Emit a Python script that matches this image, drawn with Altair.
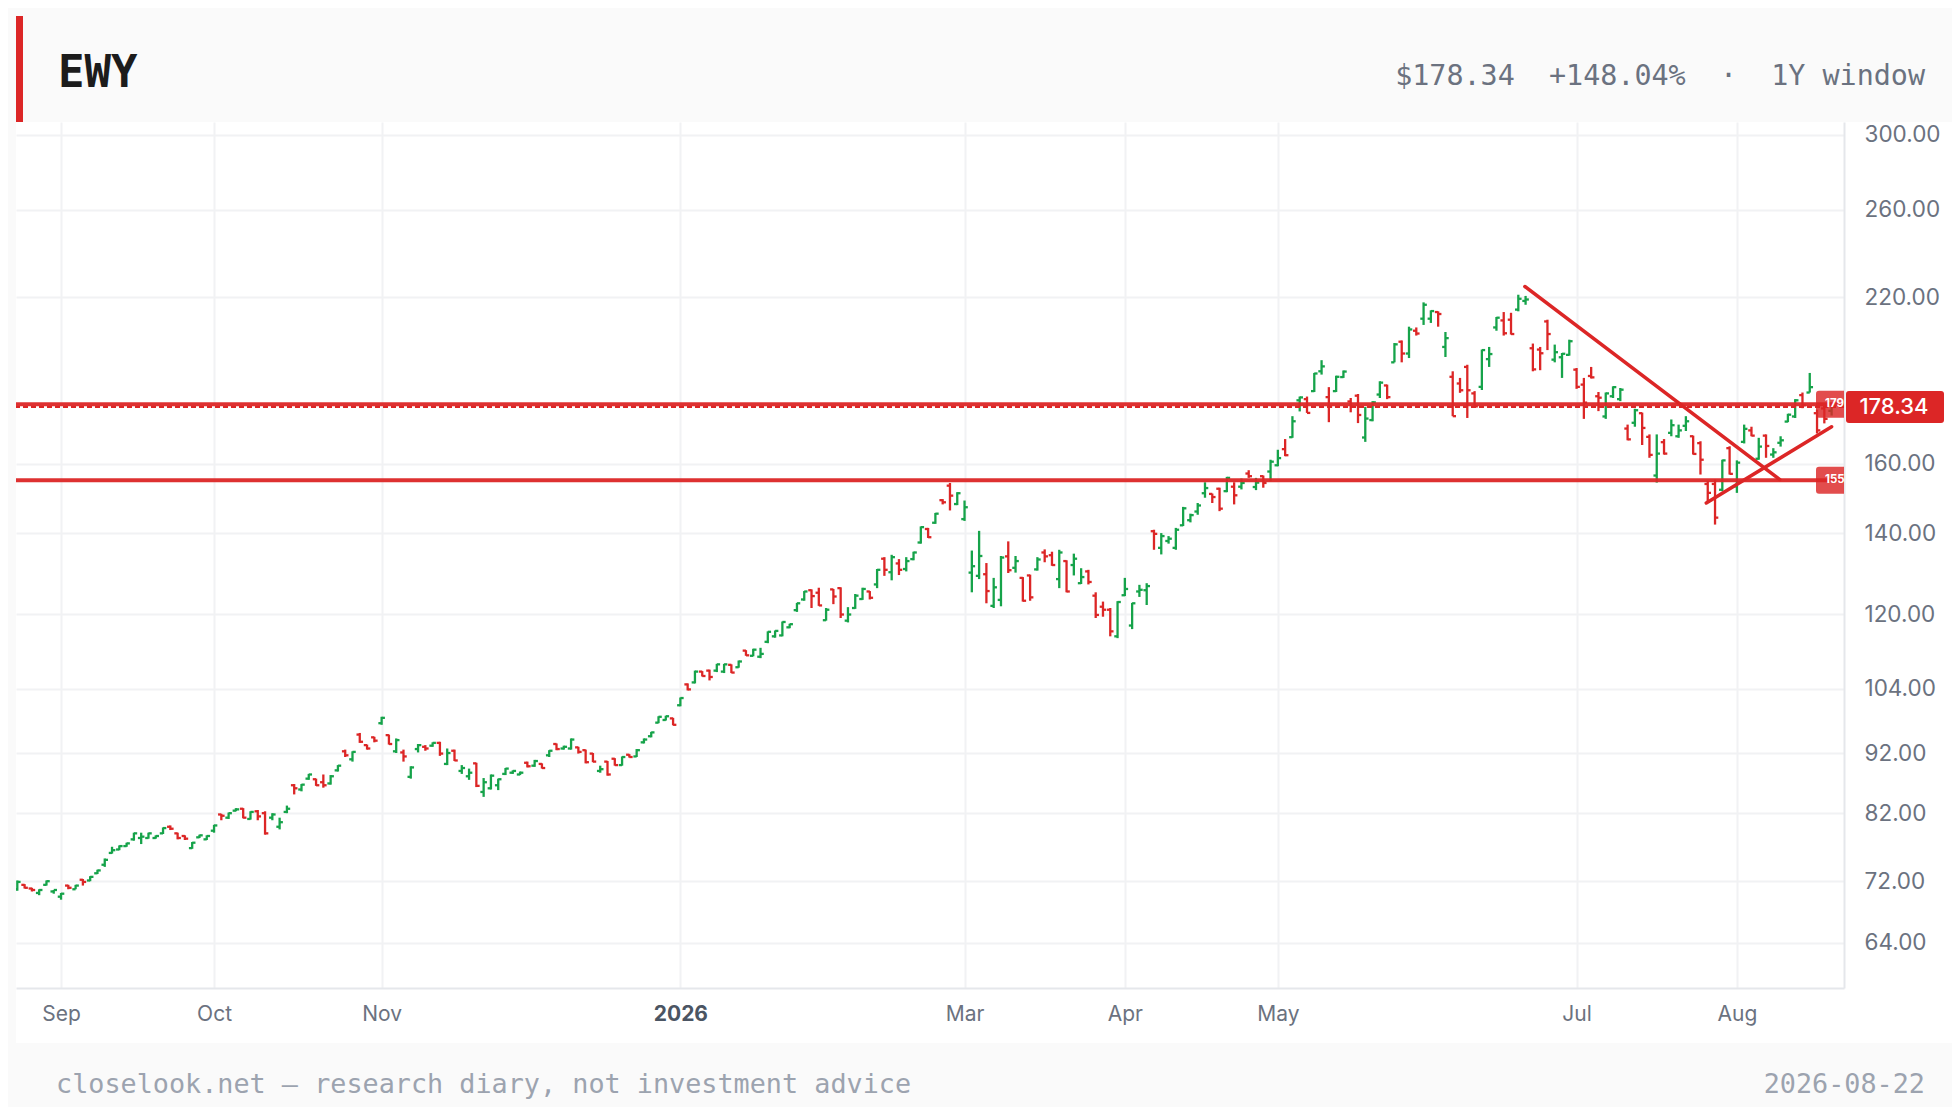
import altair as alt
import pandas as pd

# ---------------- data ----------------
opens = [70.9, 71.5, 71.0, 70.4, 71.5, 70.6, 69.9, 71.4, 70.9, 72.2,
         72.1, 73.1, 74.3, 76.0, 76.5, 77.0, 78.0, 78.2, 78.2, 78.2,
         78.9, 79.9, 78.9, 78.5, 76.7, 78.3, 78.0, 79.3, 81.8, 81.3,
         82.4, 82.7, 81.1, 82.3, 82.0, 81.3, 79.9, 82.2, 86.5, 85.8,
         87.6, 87.5, 87.0, 86.8, 89.0, 92.3, 90.9, 95.3, 93.4, 94.8,
         97.4, 95.2, 92.3, 92.1, 87.9, 92.7, 93.1, 93.3, 93.8, 90.1,
         92.4, 88.9, 88.0, 90.2, 85.4, 86.0, 86.5, 88.4, 88.6, 88.3,
         90.3, 89.8, 90.1, 91.6, 93.6, 92.8, 92.8, 93.0, 92.5, 91.9,
         88.9, 90.5, 91.0, 89.9, 91.7, 91.4, 93.9, 95.0, 97.5, 98.0,
         98.3, 100.8, 104.9, 105.3, 107.5, 107.7, 107.7, 107.5, 108.9, 108.4,
         111.9, 110.8, 110.6, 113.8, 115.0, 115.2, 117.0, 120.9, 123.4, 125.6,
         125.0, 118.6, 125.8, 126.1, 118.5, 121.4, 123.5, 125.3, 127.0, 133.4,
         130.0, 132.2, 130.8, 133.3, 137.6, 141.2, 142.9, 149.2, 153.4, 148.1,
         143.9, 129.9, 129.1, 129.5, 121.9, 123.3, 134.0, 131.1, 128.6, 129.2,
         130.7, 135.0, 134.3, 128.3, 132.8, 131.8, 127.3, 130.2, 124.3, 121.7,
         121.0, 115.0, 124.4, 117.4, 125.3, 125.6, 140.6, 136.2, 138.0, 136.2,
         142.2, 143.6, 146.0, 151.2, 151.0, 152.5, 151.8, 153.1, 153.1, 157.0,
         153.0, 156.2, 157.6, 159.5, 164.5, 168.3, 180.6, 181.0, 183.8, 190.9,
         181.7, 183.8, 188.8, 180.2, 182.2, 168.2, 173.9, 182.6, 185.8, 194.2,
         202.0, 197.5, 206.3, 211.1, 211.1, 213.8, 200.0, 188.9, 186.5, 192.5,
         183.0, 185.3, 195.4, 207.6, 210.4, 210.7, 214.8, 218.4, 199.5, 199.0,
         210.0, 195.2, 196.1, 197.0, 191.5, 186.1, 189.2, 182.0, 175.1, 182.0,
         181.0, 171.1, 173.0, 176.2, 168.4, 156.4, 166.7, 169.7, 168.6, 172.0,
         168.6, 166.4, 153.9, 153.9, 152.2, 164.8, 153.2, 166.8, 170.5, 161.5,
         168.8, 162.8, 166.5, 173.4, 175.1, 182.4, 183.3, 176.2, 177.8, 177.0]

highs = [72.1, 71.6, 71.1, 70.9, 72.1, 70.8, 70.4, 71.5, 71.5, 72.3,
         72.7, 73.6, 75.2, 76.9, 77.1, 77.5, 79.0, 79.0, 79.0, 78.6,
         79.8, 80.1, 79.0, 78.6, 77.6, 78.7, 78.6, 80.2, 81.9, 82.1,
         82.8, 82.8, 82.3, 82.5, 82.3, 82.0, 81.3, 83.2, 86.7, 86.7,
         88.4, 87.6, 88.3, 88.2, 89.9, 92.6, 92.3, 95.6, 93.5, 94.9,
         98.6, 95.3, 94.6, 92.6, 89.7, 93.6, 93.4, 93.9, 94.0, 92.8,
         92.6, 89.9, 89.3, 90.3, 87.7, 88.3, 87.6, 89.4, 89.0, 88.8,
         90.5, 90.8, 90.2, 92.5, 93.7, 93.3, 94.6, 93.1, 92.6, 92.0,
         89.8, 90.6, 91.1, 91.4, 91.8, 92.7, 94.6, 95.8, 98.7, 98.8,
         98.4, 102.3, 105.1, 107.7, 107.6, 107.9, 109.1, 109.1, 109.0, 109.8,
         112.0, 112.3, 112.5, 116.1, 116.3, 118.3, 117.8, 122.6, 125.4, 125.8,
         126.2, 121.4, 125.9, 126.3, 121.6, 124.7, 126.2, 125.4, 130.8, 133.8,
         134.4, 133.3, 133.8, 135.2, 141.9, 141.5, 145.6, 149.5, 154.2, 151.5,
         149.1, 135.5, 140.7, 132.3, 128.6, 134.1, 137.9, 134.1, 128.8, 129.4,
         133.8, 135.8, 135.2, 135.7, 133.0, 134.7, 131.0, 130.6, 125.1, 122.9,
         121.4, 123.0, 128.6, 122.6, 126.9, 127.3, 141.0, 140.1, 139.3, 141.5,
         147.3, 145.4, 148.4, 154.4, 151.1, 152.8, 156.0, 154.4, 155.5, 158.0,
         155.7, 156.4, 161.2, 164.3, 167.7, 175.2, 181.9, 181.9, 190.3, 195.0,
         185.2, 189.3, 191.2, 181.4, 182.8, 178.3, 180.3, 187.3, 186.1, 201.5,
         202.5, 207.9, 207.6, 217.8, 214.5, 214.1, 205.8, 190.9, 188.5, 193.3,
         183.8, 199.0, 200.0, 211.8, 213.8, 213.5, 221.0, 220.5, 201.3, 200.0,
         210.7, 200.9, 197.7, 202.8, 192.1, 188.5, 192.5, 183.5, 183.3, 185.5,
         184.9, 172.4, 177.7, 176.4, 169.2, 169.2, 167.7, 174.1, 172.4, 175.2,
         168.8, 167.0, 154.7, 155.2, 161.2, 165.4, 161.0, 172.4, 171.7, 168.1,
         169.2, 164.8, 168.6, 176.0, 181.0, 183.3, 190.3, 177.4, 178.3, 179.2]

lows = [70.7, 71.0, 70.6, 70.1, 71.4, 70.3, 69.5, 70.9, 70.9, 71.4,
        72.0, 73.0, 74.0, 75.9, 76.4, 76.9, 77.8, 77.3, 78.1, 78.1,
        78.8, 79.4, 78.0, 77.9, 76.6, 78.2, 77.9, 79.0, 80.9, 81.1,
        82.3, 81.2, 81.0, 80.9, 78.7, 80.9, 79.5, 82.0, 85.0, 85.5,
        87.4, 86.4, 86.1, 86.6, 88.8, 91.3, 90.5, 93.8, 92.6, 93.9,
        97.1, 93.5, 92.0, 90.5, 87.6, 92.1, 92.4, 93.1, 91.5, 89.9,
        90.6, 88.4, 87.4, 86.2, 84.6, 85.8, 85.7, 88.2, 88.4, 88.2,
        89.5, 89.6, 89.3, 91.3, 92.5, 92.6, 92.6, 91.9, 90.2, 90.4,
        88.6, 88.1, 89.8, 89.8, 91.2, 91.3, 93.7, 94.8, 97.4, 97.9,
        97.0, 100.6, 103.7, 105.1, 106.5, 105.7, 107.4, 107.2, 107.2, 108.3,
        110.8, 110.7, 110.3, 113.5, 114.7, 115.0, 116.8, 120.5, 123.1, 121.4,
        121.9, 118.5, 122.3, 119.1, 118.1, 121.2, 123.3, 123.4, 126.1, 129.1,
        128.0, 129.3, 130.2, 133.0, 137.3, 138.8, 142.6, 148.0, 146.3, 147.8,
        143.4, 125.1, 128.3, 122.5, 121.4, 121.8, 129.8, 129.9, 122.9, 123.1,
        130.4, 132.5, 131.6, 126.1, 125.1, 129.2, 127.1, 127.0, 119.1, 119.4,
        115.0, 114.6, 124.2, 116.6, 124.0, 122.1, 135.7, 134.5, 137.3, 135.7,
        142.0, 143.0, 145.1, 149.9, 148.4, 146.1, 151.5, 148.0, 152.3, 155.7,
        152.1, 152.8, 154.7, 159.2, 162.3, 168.1, 176.8, 176.3, 183.5, 189.7,
        173.2, 183.5, 188.5, 176.5, 172.9, 166.8, 173.5, 181.4, 181.0, 194.2,
        194.2, 195.8, 204.4, 208.6, 209.4, 207.9, 196.2, 175.2, 183.2, 174.6,
        178.3, 184.2, 192.5, 206.3, 204.4, 204.8, 214.1, 216.8, 190.9, 191.3,
        198.8, 194.2, 188.5, 196.7, 184.6, 174.3, 188.3, 176.9, 174.3, 181.4,
        180.3, 167.3, 171.7, 165.8, 161.8, 154.3, 162.8, 168.6, 168.1, 170.3,
        162.8, 156.7, 148.4, 142.4, 151.8, 156.7, 151.3, 166.3, 168.6, 161.2,
        161.8, 161.8, 165.3, 173.2, 174.6, 177.9, 183.3, 169.5, 172.8, 175.4]

closes = [71.9, 71.1, 70.8, 70.8, 72.0, 70.8, 70.3, 71.1, 71.4, 71.9,
          72.6, 73.5, 75.0, 76.4, 77.0, 77.4, 78.9, 78.4, 78.9, 78.5,
          79.7, 79.6, 78.2, 78.1, 77.5, 78.6, 78.5, 80.1, 81.6, 82.0,
          82.6, 81.3, 82.2, 81.5, 78.9, 81.8, 80.6, 82.7, 86.0, 86.6,
          88.3, 86.5, 86.5, 88.0, 89.8, 91.6, 92.2, 94.0, 92.8, 94.2,
          98.4, 93.6, 94.3, 91.4, 89.5, 93.4, 92.8, 93.8, 91.9, 92.0,
          90.7, 89.4, 88.6, 86.4, 87.0, 88.1, 87.5, 89.3, 88.9, 88.6,
          89.7, 90.6, 89.4, 92.4, 92.7, 93.1, 94.4, 92.2, 90.4, 90.5,
          89.2, 88.3, 89.9, 91.3, 91.3, 92.5, 94.4, 95.7, 98.6, 98.7,
          97.1, 102.2, 103.9, 107.5, 106.6, 106.4, 109.0, 109.0, 107.3, 109.6,
          110.9, 112.1, 111.2, 116.0, 116.2, 118.2, 117.7, 122.5, 125.3, 124.2,
          122.0, 121.0, 124.1, 119.9, 119.9, 124.3, 125.9, 123.8, 130.6, 130.6,
          133.8, 130.6, 132.8, 135.0, 141.7, 139.0, 145.4, 148.6, 150.5, 151.2,
          147.2, 131.5, 134.1, 125.4, 126.3, 133.7, 130.5, 132.8, 123.1, 123.9,
          133.2, 134.0, 131.8, 135.0, 125.3, 133.4, 128.8, 127.6, 119.8, 121.0,
          116.1, 122.8, 125.9, 122.5, 125.7, 126.6, 139.9, 139.3, 138.6, 141.0,
          146.9, 145.0, 147.7, 152.7, 150.1, 146.8, 155.7, 150.6, 154.2, 156.2,
          154.3, 154.2, 160.6, 161.7, 162.6, 173.5, 181.6, 176.3, 190.1, 192.7,
          178.4, 188.9, 190.8, 178.4, 175.6, 174.4, 179.9, 186.8, 181.7, 201.0,
          197.5, 206.8, 205.2, 216.8, 214.2, 213.0, 203.4, 175.2, 184.1, 184.1,
          178.5, 198.8, 197.3, 211.5, 205.3, 205.0, 219.3, 219.0, 191.6, 197.6,
          205.0, 198.0, 197.4, 202.2, 185.3, 179.8, 188.7, 181.5, 183.0, 185.2,
          184.3, 167.6, 177.2, 171.3, 162.7, 163.1, 163.1, 172.2, 170.5, 173.5,
          163.0, 161.2, 151.3, 144.3, 161.0, 156.9, 160.3, 171.0, 168.8, 165.3,
          165.5, 163.5, 167.3, 175.7, 180.6, 178.9, 185.2, 170.5, 174.3, 178.34]

# x axis: trading-day index of the first session of each labelled month
month_idx = [6, 27, 50, 91, 130, 152, 173, 214, 236]
month_lbl = ["Sep", "Oct", "Nov", "2026", "Mar", "Apr", "May", "Jul", "Aug"]
year_idx = 91
y_ticks = [64, 72, 82, 92, 104, 120, 140, 160, 220, 260, 300]

level_vals = [179.2, 155.0]
level_text = ["179", "155"]
last_price = 178.34

trend_x = [206.9, 241.9, 231.8, 249.0]
trend_y = [224.5, 155.2, 148.4, 171.7]
trend_id = ["down", "down", "up", "up"]

title_text = "EWY"
header_right = "$178.34\u00a0\u00a0+148.04%\u00a0\u00a0·\u00a0\u00a01Y window"
footer_left = "closelook.net — research diary, not investment advice"
footer_right = "2026-08-22"

# ---------------- styling ----------------
W, H = 1828, 866
PAD_R, PAD_B = 108, 119
RED = "#dc2626"
GREEN = "#16a34a"
GRAY_BG = "#fafafa"
AXIS_TXT = "#6b7280"
MONO = "DejaVu Sans Mono"
SANS = "Inter"

df = pd.DataFrame({"i": list(range(len(closes))), "o": opens, "h": highs,
                   "l": lows, "c": closes})
df["dir"] = ["up" if c >= o else "down" for o, c in zip(opens, closes)]

xs = alt.Scale(domain=[-0.18, 250.7], nice=False, zero=False)
ys = alt.Scale(type="log", domain=[58.7, 307.5], nice=False)
col = alt.Color("dir:N", scale=alt.Scale(domain=["up", "down"], range=[GREEN, RED]),
                legend=None)

label_expr = " : ".join(f"datum.value == {v} ? '{t}'" for v, t in zip(month_idx, month_lbl)) + " : ''"

x_axis = alt.Axis(values=month_idx, labelExpr=label_expr, grid=True, ticks=False,
                  tickSize=0, domain=True, title=None, labelFont=SANS,
                  labelFontSize=21, labelPadding=15, labelFlush=False,
                  labelOverlap=False,
                  labelColor={"condition": {"test": f"datum.value == {year_idx}", "value": "#4b5563"},
                              "value": AXIS_TXT},
                  labelFontWeight={"condition": {"test": f"datum.value == {year_idx}", "value": "bold"},
                                   "value": "normal"})
y_axis = alt.Axis(orient="right", values=y_ticks, format=".2f", grid=True, ticks=False,
                  tickSize=0, domain=True, title=None, labelFont=SANS, labelFontSize=22.5,
                  labelColor=AXIS_TXT, labelPadding=20, labelOverlap=False)

one = pd.DataFrame({"k": [0]})

# background bands (header, left strip, footer)
header_bg = alt.Chart(one).mark_rect(color=GRAY_BG).encode(
    x=alt.value(-8), x2=alt.value(W + PAD_R), y=alt.value(-114), y2=alt.value(0))
left_bg = alt.Chart(one).mark_rect(color=GRAY_BG).encode(
    x=alt.value(-8), x2=alt.value(0), y=alt.value(0), y2=alt.value(921))
footer_bg = alt.Chart(one).mark_rect(color=GRAY_BG).encode(
    x=alt.value(-8), x2=alt.value(W + PAD_R), y=alt.value(921), y2=alt.value(H + PAD_B))
accent = alt.Chart(one).mark_rect(color=RED).encode(
    x=alt.value(0), x2=alt.value(7), y=alt.value(-106), y2=alt.value(0))

# OHLC bars
BW = 2.3
hl = alt.Chart(df).mark_rule(strokeWidth=BW, clip=True).encode(
    x=alt.X("i:Q", scale=xs, axis=x_axis),
    y=alt.Y("l:Q", scale=ys, axis=y_axis),
    y2="h:Q", color=col)
open_tick = alt.Chart(df).transform_calculate(xo="datum.i - 0.45").mark_rule(
    strokeWidth=BW, clip=True).encode(
    x=alt.X("xo:Q", scale=xs), x2="i:Q", y=alt.Y("o:Q", scale=ys), color=col)
close_tick = alt.Chart(df).transform_calculate(xc="datum.i + 0.45").mark_rule(
    strokeWidth=BW, clip=True).encode(
    x=alt.X("i:Q", scale=xs), x2="xc:Q", y=alt.Y("c:Q", scale=ys), color=col)

lv = pd.DataFrame({"v": level_vals, "t": level_text})
levels = alt.Chart(lv).mark_rule(color=RED, strokeWidth=4, opacity=0.95).encode(
    y=alt.Y("v:Q", scale=ys))

lp = pd.DataFrame({"v": [last_price]})
price_line = alt.Chart(lp).mark_rule(color=RED, strokeWidth=2, strokeDash=[5, 3]).encode(
    y=alt.Y("v:Q", scale=ys))

tr = pd.DataFrame({"x": trend_x, "y": trend_y, "g": trend_id})
trends = alt.Chart(tr).mark_line(color=RED, strokeWidth=3.5, strokeCap="round", clip=True).encode(
    x=alt.X("x:Q", scale=xs), y=alt.Y("y:Q", scale=ys), detail="g:N")

# small level badges at the right edge of the plot
small_path = ("M-0.786,-0.964 L1,-0.964 L1,0.964 L-0.786,0.964 Q-1,0.964 -1,0.75 "
              "L-1,-0.75 Q-1,-0.964 -0.786,-0.964 Z")
lvl_badge = alt.Chart(lv).mark_point(shape=small_path, size=784, filled=True, color=RED,
                                     opacity=0.82, strokeWidth=0).encode(
    x=alt.value(W - 14), y=alt.Y("v:Q", scale=ys))
lvl_text = alt.Chart(lv).mark_text(align="left", baseline="middle", color="white",
                                   font=SANS, fontSize=11.5, fontWeight="bold").encode(
    x=alt.value(W - 19), y=alt.Y("v:Q", scale=ys), text="t:N")

# last price badge on the axis
big_path = ("M-0.939,-0.3265 L0.939,-0.3265 Q1,-0.3265 1,-0.2653 L1,0.2653 "
            "Q1,0.3265 0.939,0.3265 L-0.939,0.3265 Q-1,0.3265 -1,0.2653 "
            "L-1,-0.2653 Q-1,-0.3265 -0.939,-0.3265 Z")
price_badge = alt.Chart(lp).mark_point(shape=big_path, size=9604, filled=True, color=RED,
                                       opacity=1, strokeWidth=0).encode(
    x=alt.value(W + 51), y=alt.Y("v:Q", scale=ys))
price_text = alt.Chart(lp).mark_text(align="center", baseline="middle", color="white",
                                     font=SANS, fontSize=22, fontWeight=500).encode(
    x=alt.value(W + 50), y=alt.Y("v:Q", scale=ys), text=alt.Text("v:Q", format=".2f"))

# header and footer texts
txt = pd.DataFrame({"title": [title_text], "hr": [header_right],
                    "fl": [footer_left], "fr": [footer_right]})
title_mark = alt.Chart(txt).mark_text(align="left", baseline="alphabetic", font=MONO,
                                      fontSize=44, fontWeight="bold", color="#1c1c1c").encode(
    x=alt.value(42), y=alt.value(-35), text="title:N")
hr_mark = alt.Chart(txt).mark_text(align="right", baseline="alphabetic", font=MONO,
                                   fontSize=28.4, color=AXIS_TXT).encode(
    x=alt.value(1909), y=alt.value(-37), text="hr:N")
fl_mark = alt.Chart(txt).mark_text(align="left", baseline="alphabetic", font=MONO,
                                   fontSize=26.8, color="#9ca3af").encode(
    x=alt.value(40), y=alt.value(971), text="fl:N")
fr_mark = alt.Chart(txt).mark_text(align="right", baseline="alphabetic", font=MONO,
                                   fontSize=26.8, color="#9ca3af").encode(
    x=alt.value(1909), y=alt.value(971), text="fr:N")

chart = alt.layer(
    header_bg, left_bg, footer_bg, accent,
    hl, open_tick, close_tick,
    levels, price_line, trends,
    lvl_badge, lvl_text, price_badge, price_text,
    title_mark, hr_mark, fl_mark, fr_mark,
).properties(
    width=W, height=H,
    padding={"left": 8, "top": 114, "right": PAD_R, "bottom": PAD_B},
    autosize=alt.AutoSizeParams(type="none"),
    background="white",
).configure_view(
    stroke=None, fill="white"
).configure_axis(
    gridColor="#f1f2f4", gridWidth=2, domainColor="#e5e7eb", domainWidth=2
)

chart.save("out.html", embed_options={"renderer": "svg", "actions": False})
